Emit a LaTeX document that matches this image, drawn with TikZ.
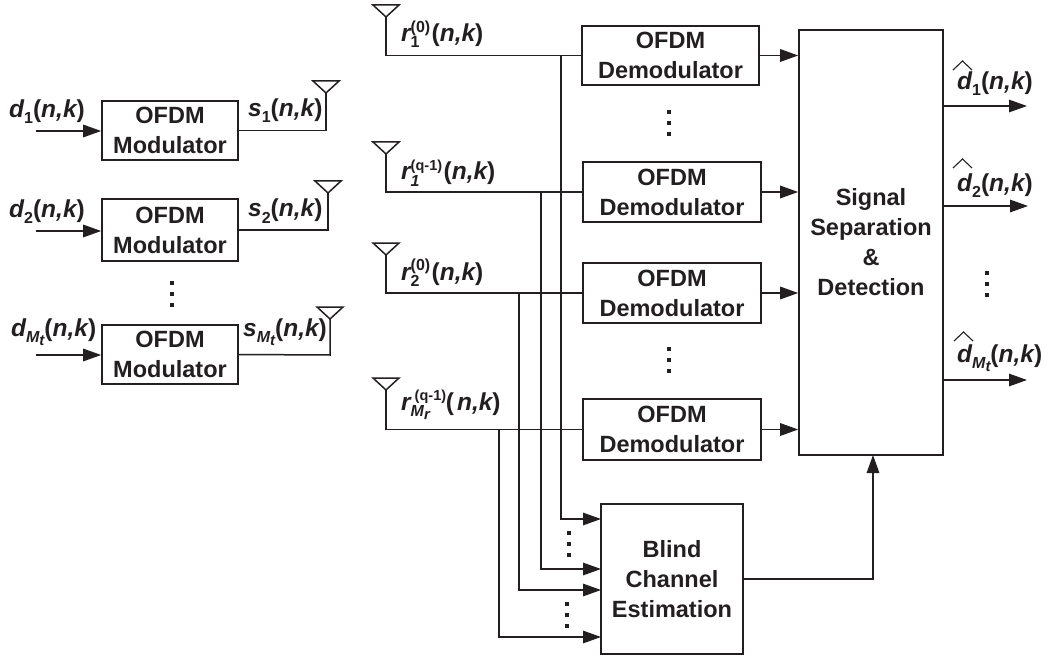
\documentclass[tikz,border=0pt]{standalone}
\usepackage{fontspec}
\setmainfont{Liberation Sans}
\usetikzlibrary{arrows.meta}
\definecolor{ink}{HTML}{231F20}
\newcommand\lowS[1]{\raisebox{-6pt}{\fontsize{16}{16}\selectfont\upshape #1}}
\newcommand\lowI[1]{\raisebox{-6pt}{\fontsize{16}{16}\selectfont\itshape #1}}
\newcommand\lowMt[1]{\raisebox{-6pt}{\fontsize{16}{16}\selectfont\itshape M\raisebox{-3pt}{\fontsize{15}{15}\selectfont #1}}}
\newcommand\highS[1]{\raisebox{9.5pt}{\fontsize{16}{16}\selectfont\upshape #1}}
\newcommand\highQ[1]{\raisebox{9.5pt}{\fontsize{14.5}{16}\selectfont\upshape #1}}
\newcommand\nk{\upshape(\itshape n,k\upshape)}
\newcommand\nks{\upshape(\itshape\hspace{3pt}n,k\upshape)}
\newcommand\antenna[3]{%
  \coordinate (#1) at (#2,#3);
  \draw[wire,line join=miter] (#2-13,#3-12) -- (#2+13,#3-12) -- (#2,#3) -- cycle;}
\newcommand\dotsAt[2]{%
  \fill[ink] (#1-2,#2-13) rectangle (#1+2,#2-9);
  \fill[ink] (#1-2,#2-2) rectangle (#1+2,#2+2);
  \fill[ink] (#1-2,#2+9) rectangle (#1+2,#2+13);}
\newcommand\hatAt[3]{\draw[ink,line width=1.1pt] (#1,#3+9) -- (#1/2+#2/2,#3) -- (#2,#3+9);}
\tikzset{
  wire/.style={ink,line width=1.5pt},
  arr/.style={wire,-{Triangle[length=18pt,width=12.5pt]}},
  box/.style={draw=ink,line width=1.6pt,inner sep=0pt,align=center,text=ink,
    font=\fontsize{23.5}{30}\selectfont\bfseries},
  lab/.style={anchor=base west,inner sep=0pt,text=ink,
    font=\fontsize{24.5}{28}\selectfont\bfseries\itshape},
}
\begin{document}
\begin{tikzpicture}[x=1pt,y=-1pt]
\useasboundingbox (0,0) rectangle (1045,658);
% modulators
\node[box,minimum width=136pt,minimum height=59pt] (mod1) at (170,130.5) {OFDM\\Modulator};
\node[box,minimum width=136pt,minimum height=62pt] (mod2) at (170,230) {OFDM\\Modulator};
\node[box,minimum width=136pt,minimum height=59pt] (mod3) at (170,354.5) {OFDM\\Modulator};
\coordinate (in1) at (36,131);
\coordinate (in2) at (36,231);
\coordinate (in3) at (36,355);
\draw[arr] (in1) -- (in1 -| mod1.west);
\draw[arr] (in2) -- (in2 -| mod2.west);
\draw[arr] (in3) -- (in3 -| mod3.west);
\antenna{ta1}{326}{93}
\antenna{ta2}{328}{193}
\antenna{ta3}{330}{319}
\draw[wire] (mod1.east) -| (ta1);
\draw[wire] (mod2.east) -| (ta2);
\coordinate (ta3c) at (330,355);
\draw[wire] (mod3.east) -- (ta3c) -- (ta3);
\node[lab] (ld1) at (9,118) {d\lowS{1}\nk};
\node[lab] (ld2) at (9,218) {d\lowS{2}\nk};
\node[lab] (ld3) at (11,336) {d\lowMt{t}\nk};
\node[lab] (ls1) at (248,117) {s\lowS{1}\nk};
\node[lab] (ls2) at (248,217) {s\lowS{2}\nk};
\node[lab] (ls3) at (243,336) {s\lowMt{t}\nk};
\dotsAt{172}{294}
% demodulators
\node[box,minimum width=177pt,minimum height=59pt] (dem1) at (670.5,55.5) {OFDM\\Demodulator};
\node[box,minimum width=178pt,minimum height=60pt] (dem2) at (672,192) {OFDM\\Demodulator};
\node[box,minimum width=178pt,minimum height=60pt] (dem3) at (672,293) {OFDM\\Demodulator};
\node[box,minimum width=178pt,minimum height=61pt] (dem4) at (672,429.5) {OFDM\\Demodulator};
\dotsAt{669}{123}
\dotsAt{669}{360}
% receive antennas
\antenna{ra1}{386}{17}
\antenna{ra2}{386}{154}
\antenna{ra3}{386}{255}
\antenna{ra4}{386}{390}
\draw[wire] (ra1) |- (dem1.west);
\draw[wire] (ra2) |- (dem2.west);
\draw[wire] (ra3) |- (dem3.west);
\draw[wire] (ra4) |- (dem4.west);
\node[lab] (lr1) at (401,42) {r\rlap{\highS{(0)}}\lowS{1}\hspace{12pt}\nk};
\node[lab] (lr2) at (401,180) {r\rlap{\highQ{(q-1)}}\lowI{1}\hspace{24pt}\nk};
\node[lab] (lr3) at (401,280) {r\rlap{\highS{(0)}}\lowS{2}\hspace{12pt}\nk};
\node[lab] (lr4) at (401,410) {r\rlap{\hspace{4pt}\highQ{(q-1)}}\lowMt{r}\hspace{16pt}\nks};
% signal separation
\node[box,minimum width=144pt,minimum height=425pt] (ss) at (871,242.5) {Signal\\Separation\\\&\\Detection};
\draw[arr] (dem1.east) -- (ss.west |- dem1.east);
\draw[arr] (dem2.east) -- (ss.west |- dem2.east);
\draw[arr] (dem3.east) -- (ss.west |- dem3.east);
\draw[arr] (dem4.east) -- (ss.west |- dem4.east);
\coordinate (o1) at (1027,106);
\coordinate (o2) at (1028,206);
\coordinate (o3) at (1027,380);
\draw[arr] (ss.east |- o1) -- (o1);
\draw[arr] (ss.east |- o2) -- (o2);
\draw[arr] (ss.east |- o3) -- (o3);
\node[lab] (lo1) at (957,90) {d\lowS{1}\nk};
\node[lab] (lo2) at (957,192) {d\lowS{2}\nk};
\node[lab] (lo3) at (957,362) {d\lowMt{t}\nk};
\hatAt{953}{972}{61}
\hatAt{953}{972}{159}
\hatAt{954}{973}{332}
\dotsAt{987}{284}
% blind channel estimation
\node[box,minimum width=142pt,minimum height=150pt] (blind) at (672,579) {Blind\\Channel\\Estimation};
\coordinate (j1) at (561,55);
\coordinate (j2) at (541,192);
\coordinate (j3) at (519,293);
\coordinate (j4) at (499,429.5);
\coordinate (b1) at (601,519);
\coordinate (b2) at (601,569);
\coordinate (b3) at (601,590);
\coordinate (b4) at (601,637);
\draw[arr] (j1) |- (b1);
\draw[arr] (j2) |- (b2);
\draw[arr] (j3) |- (b3);
\draw[arr] (j4) |- (b4);
\dotsAt{569}{544}
\dotsAt{567}{615}
\coordinate (ssin) at (873,455);
\draw[arr] (blind.east) -| (ssin);
\end{tikzpicture}
\end{document}
